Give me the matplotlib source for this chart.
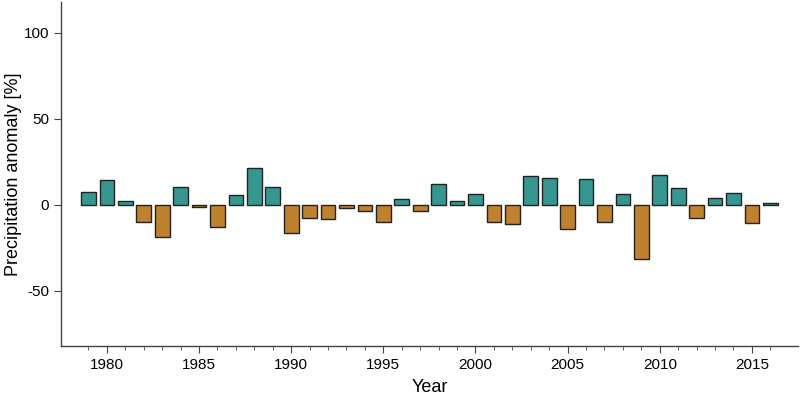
import matplotlib.pyplot as plt

plt.rcParams['font.family'] = ['Liberation Sans', 'DejaVu Sans']
plt.rcParams['axes.unicode_minus'] = False

years = list(range(1979, 2017))
anomaly = [7.4, 14.3, 2.5, -9.7, -18.8, 10.5, -1.0, -13.0, 6.0, 21.5,
           10.5, -16.5, -7.8, -8.1, -2.0, -3.5, -9.7, 3.3, -3.5, 12.2,
           2.3, 6.2, -9.9, -11.0, 16.9, 15.7, -14.1, 15.1, -9.7, 6.4,
           -31.4, 17.6, 10.1, -7.6, 3.9, 6.8, -10.7, 1.4]

pos_color = '#35978f'
neg_color = '#bf812d'
colors = [pos_color if v >= 0 else neg_color for v in anomaly]

fig = plt.figure(figsize=(8, 4), dpi=100)
fig.set_facecolor('white')
ax = fig.add_axes([0.076, 0.135, 0.9215, 0.86])

ax.bar(years, anomaly, width=0.8, color=colors, edgecolor='#222222', linewidth=1)

ax.set_xlim(1977.5, 2017.5)
ax.set_ylim(-82, 118)
ax.set_yticks([-50, 0, 50, 100])
ax.set_xticks([1980, 1985, 1990, 1995, 2000, 2005, 2010, 2015])
ax.set_xticks(years, minor=True)

for s in ['top', 'right']:
    ax.spines[s].set_visible(False)
for s in ['left', 'bottom']:
    ax.spines[s].set_color('#444444')
    ax.spines[s].set_linewidth(1)

ax.tick_params(axis='both', which='major', labelsize=11, color='#444444', length=5)
ax.tick_params(axis='x', which='minor', color='#444444', length=3)

ax.set_xlabel('Year', fontsize=13, labelpad=5)
ax.set_ylabel('Precipitation anomaly [%]', fontsize=13)
ax.yaxis.set_label_coords(-0.052, 0.5)

fig.savefig('out.png', dpi=100)
